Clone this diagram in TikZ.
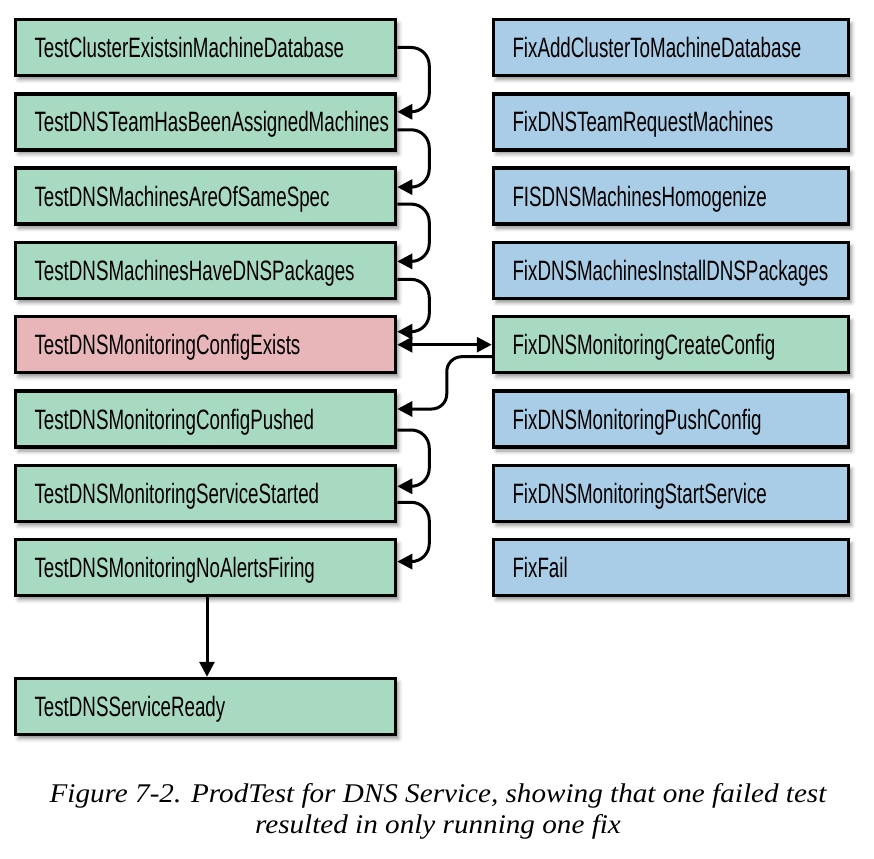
\documentclass[tikz,border=0pt]{standalone}
\usepackage{fontspec}
\newfontfamily\boxfont[FakeStretch=0.67]{Liberation Sans}
\newfontfamily\capfont[FakeStretch=1.08]{Liberation Serif}
\usetikzlibrary{arrows.meta,shadows.blur,calc}
\definecolor{testgreen}{RGB}{168,217,193}
\definecolor{failpink}{RGB}{232,182,185}
\definecolor{fixblue}{RGB}{169,205,230}
\begin{document}
\begin{tikzpicture}[x=1pt,y=-1pt,
  box/.style={draw=black, line width=3.5pt, rectangle, minimum height=56pt,
    inner xsep=19pt, inner ysep=0pt, text height=20pt, text depth=0pt,
    align=left, font=\boxfont\fontsize{28}{30}\selectfont,
    blur shadow={shadow xshift=3pt, shadow yshift=-4pt, shadow blur radius=4pt, shadow opacity=45}},
  lbox/.style={box, text width=342pt, minimum width=380pt},
  rbox/.style={box, text width=317pt, minimum width=355pt},
  tip/.tip={Triangle[length=15pt,width=15pt]},
  conn/.style={line width=3pt, -tip, rounded corners=18pt},
]
\useasboundingbox (0,0) rectangle (874,858);

\node[lbox, fill=testgreen] (L1) at (205.5,47.5) {TestClusterExistsinMachineDatabase};
\node[lbox, fill=testgreen] (L2) at (205.5,121.8) {TestDNSTeamHasBeenAssignedMachines};
\node[lbox, fill=testgreen] (L3) at (205.5,196.1) {TestDNSMachinesAreOfSameSpec};
\node[lbox, fill=testgreen] (L4) at (205.5,270.4) {TestDNSMachinesHaveDNSPackages};
\node[lbox, fill=failpink]  (L5) at (205.5,344.7) {TestDNSMonitoringConfigExists};
\node[lbox, fill=testgreen] (L6) at (205.5,419.0) {TestDNSMonitoringConfigPushed};
\node[lbox, fill=testgreen] (L7) at (205.5,493.3) {TestDNSMonitoringServiceStarted};
\node[lbox, fill=testgreen] (L8) at (205.5,567.6) {TestDNSMonitoringNoAlertsFiring};
\node[lbox, fill=testgreen] (L9) at (205.5,706.5) {TestDNSServiceReady};

\node[rbox, fill=fixblue]   (R1) at (671,47.5) {FixAddClusterToMachineDatabase};
\node[rbox, fill=fixblue]   (R2) at (671,121.8) {FixDNSTeamRequestMachines};
\node[rbox, fill=fixblue]   (R3) at (671,196.1) {FISDNSMachinesHomogenize};
\node[rbox, fill=fixblue]   (R4) at (671,270.4) {FixDNSMachinesInstallDNSPackages};
\node[rbox, fill=testgreen] (R5) at (671,344.7) {FixDNSMonitoringCreateConfig};
\node[rbox, fill=fixblue]   (R6) at (671,419.0) {FixDNSMonitoringPushConfig};
\node[rbox, fill=fixblue]   (R7) at (671,493.3) {FixDNSMonitoringStartService};
\node[rbox, fill=fixblue]   (R8) at (671,567.6) {FixFail};

\draw[conn] (L1.east) -- ++(32,0) |- ([yshift=10pt]L2.east);
\draw[conn] ([yshift=-8pt]L2.east) -- ++(32,0) |- ([yshift=9pt]L3.east);
\draw[conn] ([yshift=-8pt]L3.east) -- ++(32,0) |- ([yshift=9pt]L4.east);
\draw[conn] ([yshift=-9pt]L4.east) -- ++(32,0) |- ([yshift=13pt]L5.east);
\draw[line width=3pt, tip-tip] (L5.east) -- (R5.west);
\draw[conn, rounded corners=15pt] ([yshift=-12pt]R5.west) -- ++(-45,0) |- ([yshift=10pt]L6.east);
\draw[conn] ([yshift=-11pt]L6.east) -- ++(32,0) |- ([yshift=7pt]L7.east);
\draw[conn] ([yshift=-9pt]L7.east) -- ++(32,0) |- ([yshift=6pt]L8.east);
\draw[conn] ([xshift=1.5pt]L8.south) -- ([xshift=1.5pt]L9.north);

\node[align=center, inner sep=0pt, font=\capfont\itshape\fontsize{27}{31}\selectfont]
  (cap) at (438,811) {Figure 7-2. ProdTest for DNS Service, showing that one failed test\\resulted in only running one fix};
\end{tikzpicture}
\end{document}
